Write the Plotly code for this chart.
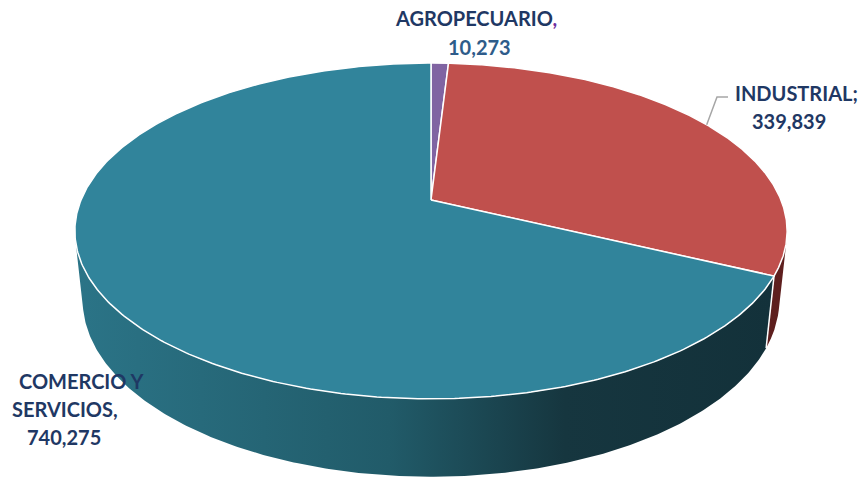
import numpy as np
import plotly.graph_objects as go

# ---------------- data ----------------
categories = ["AGROPECUARIO", "INDUSTRIAL", "COMERCIO Y SERVICIOS"]
values = [10273, 339839, 740275]
value_labels = ["10,273", "339,839", "740,275"]

top_colors = ["#8064A2", "#C0504D", "#31849B"]
side_colors = ["#4B3A62", "#5E1F1E", "#1F5563"]
side_gradient = [[0.0, "#2B7487"], [0.45, "#215B69"], [0.7, "#16363F"], [1.0, "#13313A"]]

# ---------------- 3D perspective projection ----------------
CX, CY = 431.0, 200.0
F = 1680.0
D = 4.80
ALPHA = np.radians(27.6)
H = 0.224
ca, sa = np.cos(ALPHA), np.sin(ALPHA)


def proj(phi, z):
    phi = np.asarray(phi, dtype=float)
    x = np.sin(phi)
    y = np.cos(phi)
    depth = D + y * ca - z * sa
    sy = F * (y * sa + z * ca) / depth
    return CX + F * x / depth, CY - sy


total = float(sum(values))
fr = np.array(values) / total
ends = np.cumsum(fr) * 2 * np.pi
starts = np.concatenate([[0.0], ends[:-1]])

# visible part of the cylinder side
cvis = -1.0 / (D * ca)
vis0 = np.arccos(cvis)
vis1 = 2 * np.pi - vis0

fig = go.Figure()

# side walls
for i in range(len(values)):
    a0 = max(starts[i], vis0)
    a1 = min(ends[i], vis1)
    if a1 <= a0:
        continue
    ph = np.linspace(a0, a1, 300)
    xt, yt = proj(ph, 0.0)
    xb, yb = proj(ph[::-1], -H)
    xs = np.concatenate([xt, xb, xt[:1]])
    ys = np.concatenate([yt, yb, yt[:1]])
    kw = dict(fillcolor=side_colors[i])
    if i == 2:
        kw = dict(fillgradient=dict(type="horizontal", colorscale=side_gradient,
                                    start=float(xs.min()), stop=float(xs.max())))
    fig.add_trace(go.Scatter(x=xs, y=ys, mode="lines", fill="toself",
                             line=dict(width=0), hoverinfo="skip", **kw))

# white edges on the side at slice boundaries
for b in starts:
    if vis0 < b < vis1:
        x0, y0 = proj(b, 0.0)
        x1, y1 = proj(b, -H)
        fig.add_trace(go.Scatter(x=[float(x0), float(x1)], y=[float(y0), float(y1)],
                                 mode="lines", line=dict(color="white", width=1.5),
                                 hoverinfo="skip"))

# top faces
for i in range(len(values)):
    ph = np.linspace(starts[i], ends[i], 400)
    xa, ya = proj(ph, 0.0)
    xs = np.concatenate([[CX], xa, [CX]])
    ys = np.concatenate([[CY], ya, [CY]])
    fig.add_trace(go.Scatter(x=xs, y=ys, mode="lines", fill="toself",
                             fillcolor=top_colors[i],
                             line=dict(color="white", width=1.5),
                             hoverinfo="skip"))

# ---------------- labels ----------------
navy = "#1F3864"
fnt = dict(family="Lato", size=20, color=navy)

fig.add_annotation(x=476, y=18, text="<b>" + categories[0] + "<span style='color:#7030A0'>,</span></b>",
                   showarrow=False, font=fnt, xanchor="center", yanchor="middle")
fig.add_annotation(x=479, y=47, text="<b>" + value_labels[0] + "</b>",
                   showarrow=False, font=dict(family="Lato", size=20, color="#2E5C8A"),
                   xanchor="center", yanchor="middle")

fig.add_annotation(x=796, y=93, text="<b>" + categories[1] + ";</b>",
                   showarrow=False, font=fnt, xanchor="center", yanchor="middle")
fig.add_annotation(x=789, y=121, text="<b>" + value_labels[1] + "</b>",
                   showarrow=False, font=fnt, xanchor="center", yanchor="middle")

# leader line for INDUSTRIAL from the slice mid-angle on the rim
mid = (starts[1] + ends[1]) / 2
lx, ly = proj(mid, 0.0)
fig.add_trace(go.Scatter(x=[728, 717, float(lx)], y=[97, 97, float(ly)], mode="lines",
                         line=dict(color="#A6A6A6", width=1.5), hoverinfo="skip"))

words = categories[2].split(" ")
fig.add_annotation(x=17, y=381, text="<b>" + " ".join(words[:2]) + "</b>",
                   showarrow=False, font=fnt, xanchor="left", yanchor="middle")
fig.add_annotation(x=10, y=409, text="<b>" + words[2] + ",</b>",
                   showarrow=False, font=fnt, xanchor="left", yanchor="middle")
fig.add_annotation(x=25, y=437, text="<b>" + value_labels[2] + "</b>",
                   showarrow=False, font=fnt, xanchor="left", yanchor="middle")

fig.update_layout(
    width=861, height=480,
    margin=dict(l=0, r=0, t=0, b=0),
    paper_bgcolor="white", plot_bgcolor="white",
    showlegend=False, hovermode=False,
    xaxis=dict(range=[0, 861], visible=False, fixedrange=True),
    yaxis=dict(range=[480, 0], visible=False, fixedrange=True),
)

fig.write_html("out.html", config={"displayModeBar": False},
               post_script="document.body.style.margin='0';document.body.style.overflow='hidden';")
